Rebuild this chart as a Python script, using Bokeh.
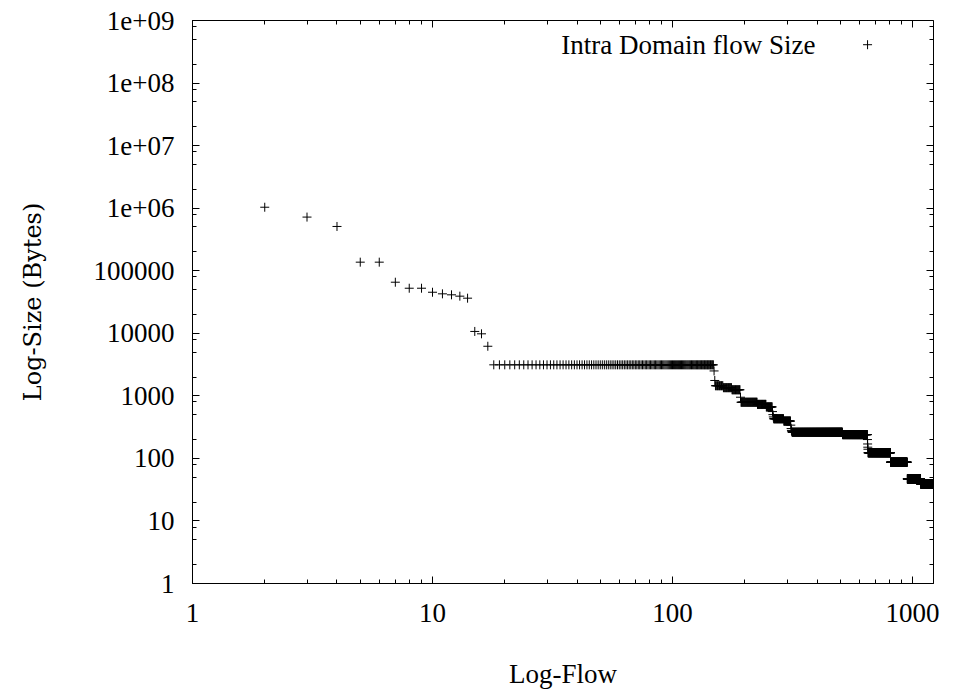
import numpy as np
from bokeh.plotting import figure
from bokeh.models import Range1d, FixedTicker, CustomJSTickFormatter, LogAxis, Label
from bokeh.embed import file_html
from bokeh.resources import INLINE

# ---- data ----
# individual leading points (rank, size in bytes)
head_rank = [2, 3, 4, 5, 6, 7, 8, 9, 10, 11, 12, 13, 14, 15, 16, 17]
head_size = [1.035e6, 7.2e5, 5.1e5, 1.37e5, 1.37e5, 6.55e4, 5.25e4, 5.25e4,
             4.53e4, 4.27e4, 4.12e4, 3.92e4, 3.64e4, 1.07e4, 9.8e3, 6.2e3]

# plateaus of equal flow size: first rank, last rank, size
step_start = [18, 151, 163, 177, 193, 226, 246, 264, 291, 315, 511, 653, 810, 951, 1081]
step_end   = [148, 162, 176, 191, 225, 245, 260, 290, 310, 510, 648, 809, 950, 1080, 1220]
step_size  = [3130, 1450, 1350, 1250, 790, 730, 665, 430, 395, 262, 240, 123, 87, 47, 39]

# single points between plateaus
trans_rank = [149, 150, 192, 261, 262, 263, 311, 312, 313, 314, 649, 650, 651, 652]
trans_size = [2500, 1760, 950, 560, 500, 460, 340, 300, 280, 270, 200, 170, 151, 140]

x_tick_vals = [1, 10, 100, 1000]
x_tick_labels = ["1", "10", "100", "1000"]
y_tick_vals = [1, 10, 100, 1000, 10000, 100000, 1e6, 1e7, 1e8, 1e9]
y_tick_labels = ["1", "10", "100", "1000", "10000", "100000", "1e+06", "1e+07", "1e+08", "1e+09"]
x_range_end = 1223
series_label = "Intra Domain flow Size"
x_title = "Log-Flow"
y_title = "Log-Size (Bytes)"

# ---- assemble series ----
ranks = list(head_rank) + list(trans_rank)
sizes = list(head_size) + list(trans_size)
for s, e, v in zip(step_start, step_end, step_size):
    r = list(range(s, e + 1))
    ranks += r
    sizes += [v] * len(r)

x_minor = [m * 10 ** k for k in range(0, 4) for m in range(2, 10) if m * 10 ** k < x_range_end]
y_minor = [m * 10.0 ** k for k in range(0, 9) for m in (2, 5, 8)]

FONT = "Liberation Serif"

p = figure(width=959, height=692, x_axis_type="log", y_axis_type="log",
           x_range=Range1d(1, x_range_end), y_range=Range1d(1, 1e9),
           output_backend="svg", toolbar_location=None,
           min_border_left=192, min_border_right=26, min_border_top=20, min_border_bottom=109)
p.background_fill_color = "white"
p.border_fill_color = "white"
p.outline_line_color = "black"
p.outline_line_width = 1
p.xgrid.visible = False
p.ygrid.visible = False

p.scatter(ranks, sizes, marker="cross", size=9, line_color="black", line_width=1)

def fmt(vals, labels):
    return CustomJSTickFormatter(args=dict(vals=vals, labels=labels), code="""
        let best = 0, bd = 1e9;
        for (let i = 0; i < vals.length; i++) {
            const d = Math.abs(Math.log10(vals[i]) - Math.log10(tick));
            if (d < bd) { bd = d; best = i; }
        }
        return labels[best];
    """)

def style_axis(ax, ticks, minor, labels, show):
    ax.ticker = FixedTicker(ticks=ticks, minor_ticks=minor)
    ax.major_tick_in = 7
    ax.major_tick_out = 0
    ax.minor_tick_in = 4
    ax.minor_tick_out = 0
    ax.major_tick_line_color = "black"
    ax.minor_tick_line_color = "black"
    ax.axis_line_color = "black"
    if show:
        ax.formatter = fmt(ticks, labels)
        ax.major_label_text_font = FONT
        ax.major_label_text_font_size = "27px"
        ax.major_label_text_color = "black"
    else:
        ax.formatter = CustomJSTickFormatter(code='return "";')
        ax.major_label_text_font_size = "1px"
        ax.major_label_standoff = 0
        ax.axis_line_color = None

style_axis(p.xaxis[0], x_tick_vals, x_minor, x_tick_labels, True)
style_axis(p.yaxis[0], y_tick_vals, y_minor, y_tick_labels, True)
p.xaxis[0].major_label_standoff = 20
p.yaxis[0].major_label_standoff = 18

p.xaxis[0].axis_label = x_title
p.xaxis[0].axis_label_text_font = FONT
p.xaxis[0].axis_label_text_font_size = "27px"
p.xaxis[0].axis_label_text_font_style = "normal"
p.xaxis[0].axis_label_text_color = "black"
p.xaxis[0].axis_label_standoff = 34

p.yaxis[0].axis_label = y_title
p.yaxis[0].axis_label_text_font = "DejaVu Serif"
p.yaxis[0].axis_label_text_font_size = "24px"
p.yaxis[0].axis_label_text_font_style = "normal"
p.yaxis[0].axis_label_text_color = "black"
p.yaxis[0].axis_label_standoff = 44

top_ax = LogAxis()
style_axis(top_ax, x_tick_vals, x_minor, x_tick_labels, False)
p.add_layout(top_ax, "above")
right_ax = LogAxis()
style_axis(right_ax, y_tick_vals, y_minor, y_tick_labels, False)
p.add_layout(right_ax, "right")

# legend (gnuplot style: text then sample marker), placed by fraction of the log ranges
lx_text = 10 ** (np.log10(x_range_end) * 0.8408)
lx_mark = 10 ** (np.log10(x_range_end) * 0.911)
ly = 10 ** (9 * 0.957)
p.add_layout(Label(x=lx_text, y=ly, text=series_label, text_align="right",
                   text_baseline="middle", text_font=FONT, text_font_size="27px",
                   text_color="black"))
p.scatter([lx_mark], [ly], marker="cross", size=9, line_color="black", line_width=1)

open("out.html", "w").write(file_html(p, INLINE))
